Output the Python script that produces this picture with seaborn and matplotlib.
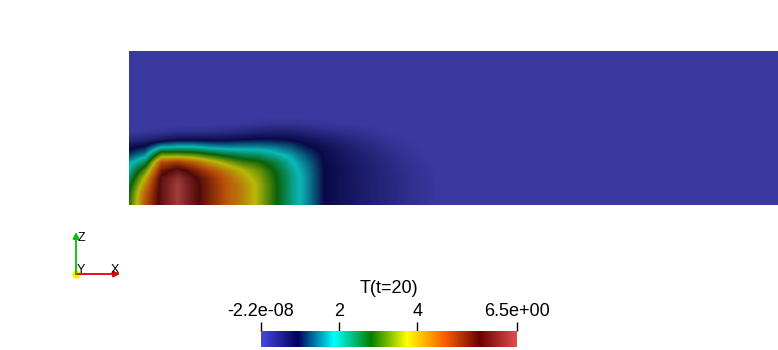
import numpy as np
import matplotlib
matplotlib.use("Agg")
import matplotlib.pyplot as plt
import seaborn as sns
from matplotlib.colors import LinearSegmentedColormap, Normalize
from matplotlib.cm import ScalarMappable
from matplotlib.patches import Rectangle

sns.set_theme(style="white")
plt.rcParams["font.family"] = ["Liberation Sans", "DejaVu Sans"]

# ---------------- data ----------------
# temperature at mesh nodes of the hot zone (rows top->bottom, cols left->right)
# everything outside this block is 0
temp_rows = [
    [0, 0, 0, 0, 0, 0, 0, .05, .1, .15, .15, .1, .08, .05, .03, 0, 0, 0, 0, 0, 0],
    [0, .05, .1, .15, .2, .2, .25, .35, .45, .5, .5, .4, .3, .22, .15, .08, .02, 0, 0, 0, 0],
    [.3, .4, .6, .8, .8, .8, .8, .9, .95, .95, .9, .75, .6, .45, .32, .2, .1, .03, 0, 0, 0],
    [.8, 1.0, 1.8, 1.9, 1.9, 1.7, 1.6, 1.6, 1.6, 1.5, 1.3, 1.0, .8, .62, .47, .32, .19, .08, .02, 0, 0],
    [1.2, 1.6, 3.3, 3.3, 3.2, 2.9, 2.6, 2.4, 2.3, 2.0, 1.7, 1.25, .9, .72, .56, .41, .27, .14, .05, 0, 0],
    [1.7, 2.4, 4.7, 4.9, 4.5, 4.0, 3.5, 3.1, 2.9, 2.5, 1.95, 1.45, .93, .77, .61, .46, .33, .2, .08, .01, 0],
    [2.0, 3.2, 5.3, 5.8, 5.3, 4.7, 4.2, 3.7, 3.3, 2.75, 2.1, 1.55, .95, .8, .64, .49, .36, .23, .11, .02, 0],
    [2.3, 3.8, 5.7, 6.3, 5.7, 5.1, 4.5, 4.0, 3.5, 2.85, 2.2, 1.6, .95, .8, .65, .5, .38, .25, .13, .03, 0],
    [2.6, 4.2, 5.8, 6.5, 5.8, 5.2, 4.6, 4.2, 3.6, 2.9, 2.2, 1.6, .95, .8, .65, .5, .38, .25, .13, .03, 0],
    [2.8, 4.5, 5.8, 6.5, 5.8, 5.2, 4.6, 4.2, 3.6, 2.9, 2.2, 1.6, .95, .8, .65, .5, .38, .25, .13, .03, 0],
    [2.9, 4.6, 5.8, 6.5, 5.8, 5.2, 4.6, 4.2, 3.6, 2.9, 2.2, 1.6, .95, .8, .65, .5, .38, .25, .13, .03, 0],
]
grid_rows, grid_cols = 20, 41          # full mesh size
hot_row0, hot_col0 = 9, 0              # where the hot block sits in the mesh

t_min, t_max = 0.0, 6.55
cb_ticks = [0.0, 2.0, 4.0, 6.55]
cb_labels = ["-2.2e-08", "2", "4", "6.5e+00"]
cb_title = "T(t=20)"

# ParaView "Rainbow Desaturated"
cmap_pos = [0.0, 0.143, 0.285, 0.429, 0.571, 0.714, 0.857, 1.0]
cmap_rgb = [(0.278, 0.278, 0.859), (0.0, 0.0, 0.361), (0.0, 1.0, 1.0),
            (0.0, 0.502, 0.0), (1.0, 1.0, 0.0), (1.0, 0.380, 0.0),
            (0.420, 0.0, 0.0), (0.878, 0.302, 0.302)]

# ---------------- build ----------------
field = np.zeros((grid_rows, grid_cols))
block = np.array(temp_rows)
field[hot_row0:hot_row0 + block.shape[0], hot_col0:hot_col0 + block.shape[1]] = block

bar_cmap = LinearSegmentedColormap.from_list("rd", list(zip(cmap_pos, cmap_rgb)))
shade, amb = 0.69, 9 / 255
lit_rgb = [tuple(min(1, c * shade + amb) for c in col) for col in cmap_rgb]
field_cmap = LinearSegmentedColormap.from_list("rd_lit", list(zip(cmap_pos, lit_rgb)))
norm = Normalize(t_min, t_max)

W, H = 778, 350
fig = plt.figure(figsize=(W / 100, H / 100), dpi=100, facecolor="white")
ax = fig.add_axes([0, 0, 1, 1])

x0, x1, y0, y1 = 129, 778, 50.5, 205
cell_w = 16.25
ext_left = x0 - cell_w / 2
ext_right = ext_left + grid_cols * cell_w
im = ax.imshow(field, cmap=field_cmap, norm=norm, interpolation="bilinear",
               interpolation_stage="data", extent=(ext_left, ext_right, y1, y0),
               aspect="auto")
im.set_clip_path(Rectangle((x0, y0), x1 - x0, y1 - y0, transform=ax.transData))
ax.set_xlim(0, W)
ax.set_ylim(H, 0)
ax.axis("off")

# colour bar
cax = fig.add_axes([261 / W, 3 / H, 256 / W, 16 / H])
cb = fig.colorbar(ScalarMappable(norm=norm, cmap=bar_cmap), cax=cax, orientation="horizontal")
cb.outline.set_visible(False)
cb.set_ticks(cb_ticks, labels=cb_labels)
cax.xaxis.set_ticks_position("top")
cax.tick_params(axis="x", which="major", direction="out", length=6.5, width=1.0,
                color="black", labelsize=13, pad=1.5, top=True, bottom=False,
                labeltop=True, labelbottom=False, labelcolor="black")
cax.minorticks_off()
ax.text(389, 293, cb_title, ha="center", va="baseline", fontsize=13, color="black")

# orientation triad
ax.annotate("", xy=(120, 274), xytext=(76, 274),
            arrowprops=dict(arrowstyle="-|>", color="#e00000", lw=1.3, mutation_scale=9,
                            shrinkA=0, shrinkB=0))
ax.annotate("", xy=(76, 232), xytext=(76, 274),
            arrowprops=dict(arrowstyle="-|>", color="#00c000", lw=1.3, mutation_scale=9,
                            shrinkA=0, shrinkB=0))
ax.plot([76], [274], "o", color="#f0f000", ms=5, mec="#f0f000")
ax.text(78, 241, "Z", fontsize=9, color="black", va="baseline")
ax.text(111, 273, "X", fontsize=9, color="black", va="baseline")
ax.text(77, 273, "Y", fontsize=9, color="black", va="baseline")

fig.savefig("out.png", dpi=100, facecolor="white")
